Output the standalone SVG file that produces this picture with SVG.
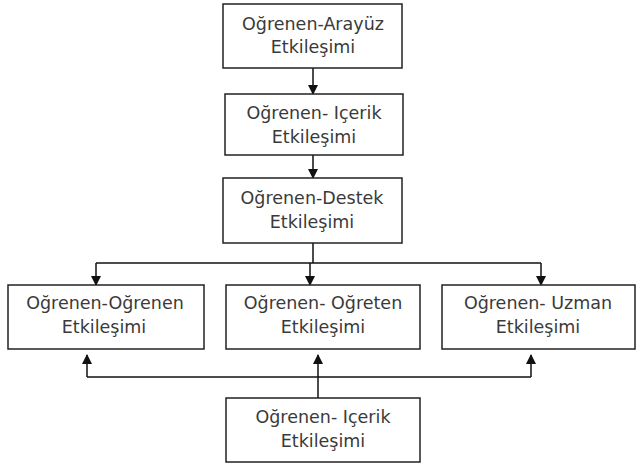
<svg xmlns="http://www.w3.org/2000/svg" width="638" height="466" viewBox="0 0 638 466">
<style>
.box{fill:#fff;stroke:#222;stroke-width:1.5}
.t{font-family:"DejaVu Sans",Verdana,sans-serif;font-size:17.5px;fill:#3a3a3a;text-anchor:middle}
.c{fill:none;stroke:#111;stroke-width:1.5}
</style>
<defs>
<marker id="ah" markerWidth="10" markerHeight="10" refX="9" refY="5" orient="auto" markerUnits="userSpaceOnUse">
<path d="M0,0 L10,5 L0,10 Z" fill="#111"/>
</marker>
</defs>
<rect width="638" height="466" fill="#fff"/>
<g id="connectors">
<path class="c" d="M313,68 V94" marker-end="url(#ah)"/>
<path class="c" d="M313,155 V178" marker-end="url(#ah)"/>
<path class="c" d="M313,243 V263"/>
<path class="c" d="M96,263 H541"/>
<path class="c" d="M96,263 V285" marker-end="url(#ah)"/>
<path class="c" d="M310,263 V285" marker-end="url(#ah)"/>
<path class="c" d="M541,263 V285" marker-end="url(#ah)"/>
<path class="c" d="M318,398 V355" marker-end="url(#ah)"/>
<path class="c" d="M87,377 H531"/>
<path class="c" d="M87,377 V355" marker-end="url(#ah)"/>
<path class="c" d="M531,377 V355" marker-end="url(#ah)"/>
</g>
<g id="n1"><rect class="box" x="223" y="4" width="179" height="64"/><text class="t" x="313" y="30">Oğrenen-Arayüz</text><text class="t" x="313" y="53">Etkileşimi</text></g>
<g id="n2"><rect class="box" x="225" y="94" width="178" height="61"/><text class="t" x="314" y="119">Oğrenen- Içerik</text><text class="t" x="314" y="143">Etkileşimi</text></g>
<g id="n3"><rect class="box" x="223" y="178" width="179" height="65"/><text class="t" x="312" y="204">Oğrenen-Destek</text><text class="t" x="312" y="228">Etkileşimi</text></g>
<g id="n4"><rect class="box" x="8" y="285" width="196" height="64"/><text class="t" x="105" y="309">Oğrenen-Oğrenen</text><text class="t" x="104" y="333">Etkileşimi</text></g>
<g id="n5"><rect class="box" x="226" y="285" width="194" height="64"/><text class="t" x="323" y="309">Oğrenen- Oğreten</text><text class="t" x="323" y="333">Etkileşimi</text></g>
<g id="n6"><rect class="box" x="442" y="285" width="193" height="64"/><text class="t" x="538" y="309">Oğrenen- Uzman</text><text class="t" x="538" y="333">Etkileşimi</text></g>
<g id="n7"><rect class="box" x="226" y="398" width="194" height="64"/><text class="t" x="323" y="423">Oğrenen- Içerik</text><text class="t" x="323" y="447">Etkileşimi</text></g>
</svg>
